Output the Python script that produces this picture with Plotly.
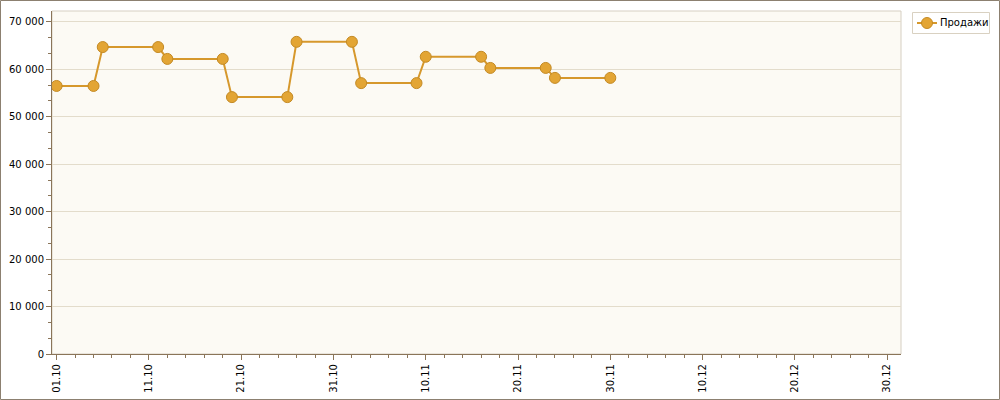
import plotly.graph_objects as go

dates = ["2009-10-01", "2009-10-05", "2009-10-06", "2009-10-12", "2009-10-13", "2009-10-19",
         "2009-10-20", "2009-10-26", "2009-10-27", "2009-11-02", "2009-11-03", "2009-11-09",
         "2009-11-10", "2009-11-16", "2009-11-17", "2009-11-23", "2009-11-24", "2009-11-30"]
sales = [56500, 56500, 64700, 64700, 62200, 62200,
         54150, 54150, 65800, 65800, 57100, 57100,
         62650, 62650, 60300, 60300, 58200, 58200]
series_name = "Продажи"

y_ticks = [0, 10000, 20000, 30000, 40000, 50000, 60000, 70000]
y_tick_text = ["0", "10 000", "20 000", "30 000", "40 000", "50 000", "60 000", "70 000"]

DAY = 86400000
axis_col = "#8A7559"
grid_col = "#E3DCCB"
line_col = "#D6982C"
marker_col = "#E3A534"
marker_edge = "#C48A24"
font = dict(family="DejaVu Sans, Verdana, sans-serif", size=10, color="#000000")

fig = go.Figure()
fig.add_trace(go.Scatter(
    x=dates, y=sales, name=series_name, mode="lines+markers",
    line=dict(color=line_col, width=2),
    marker=dict(size=11, color=marker_col, line=dict(color=marker_edge, width=1)),
    showlegend=False,
))

L, R, T, B = 52, 99, 11, 46
pw, ph = 1000 - L - R, 400 - T - B


def px(x):
    return (x - L) / pw


def py(y):
    return (400 - B - y) / ph


# legend box (pixel layout)
lx0, lx1, ly0, ly1 = 912.5, 989.5, 12.5, 33.5
lcy = (ly0 + ly1) / 2

fig.update_layout(
    width=1000, height=400,
    margin=dict(l=L, r=R, t=T, b=B, autoexpand=False),
    paper_bgcolor="#FFFFFF",
    plot_bgcolor="#FCFAF4",
    font=font,
    showlegend=False,
    xaxis=dict(
        type="date", automargin=False,
        range=["2009-09-30 12:00", "2009-12-31 12:00"],
        tick0="2009-10-01", dtick=10 * DAY, tickformat="%d.%m",
        tickangle=-90, ticks="outside", ticklen=5, tickcolor=axis_col,
        showgrid=False, zeroline=False,
        showline=True, linecolor=axis_col, linewidth=1,
        minor=dict(tick0="2009-10-01", dtick=2 * DAY, ticks="outside", ticklen=3,
                   tickcolor=axis_col, showgrid=False),
        tickfont=font,
    ),
    yaxis=dict(
        range=[0, 72300], automargin=False,
        tickvals=y_ticks, ticktext=y_tick_text,
        ticks="outside", ticklen=5, tickcolor=axis_col,
        showgrid=True, gridcolor=grid_col, gridwidth=1, zeroline=False,
        showline=True, linecolor=axis_col, linewidth=1,
        minor=dict(tick0=0, dtick=10000 / 3, ticks="outside", ticklen=3,
                   tickcolor=axis_col, showgrid=False),
        tickfont=font,
    ),
    shapes=[
        dict(type="rect", xref="paper", yref="paper", x0=0, x1=1, y0=0, y1=1,
             line=dict(color="#D6CFC2", width=1), layer="below"),
        dict(type="rect", xref="paper", yref="paper",
             x0=px(0.5), x1=px(999.5), y0=py(399.5), y1=py(0.5),
             line=dict(color="#8C8070", width=1)),
        # legend
        dict(type="rect", xref="paper", yref="paper",
             x0=px(lx0), x1=px(lx1), y0=py(ly1), y1=py(ly0),
             fillcolor="#FFFFFF", line=dict(color="#D9D1C1", width=1)),
        dict(type="line", xref="paper", yref="paper",
             x0=px(917), x1=px(937), y0=py(lcy), y1=py(lcy),
             line=dict(color=line_col, width=2)),
        dict(type="circle", xref="paper", yref="paper",
             x0=px(921.5), x1=px(932.5), y0=py(lcy + 5.5), y1=py(lcy - 5.5),
             fillcolor=marker_col, line=dict(color=marker_edge, width=1)),
    ],
    annotations=[
        dict(text=series_name, xref="paper", yref="paper", x=px(938), y=py(lcy),
             xanchor="left", yanchor="middle", showarrow=False,
             font=dict(family="DejaVu Sans, Verdana, sans-serif", size=10, color="#000000")),
    ],
)

fig.write_html("out.html", config={"displayModeBar": False},
               post_script="document.body.style.margin='0';document.body.style.overflow='hidden';")
